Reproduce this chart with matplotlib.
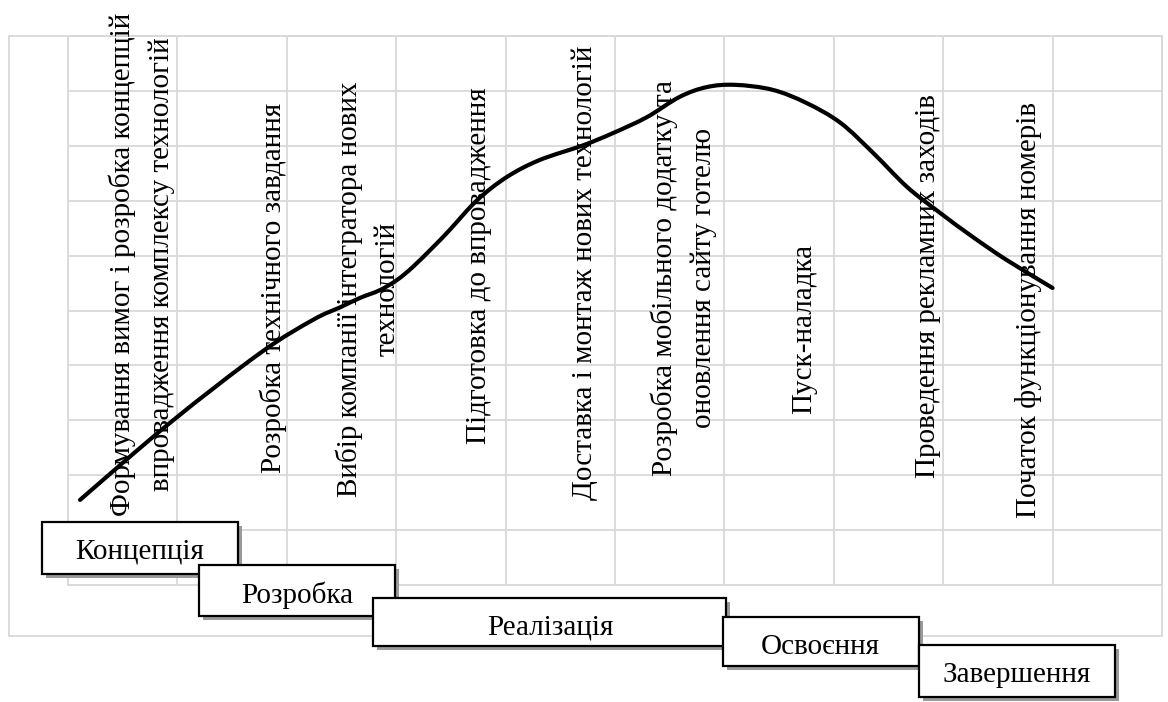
import matplotlib
matplotlib.use("Agg")
import matplotlib.pyplot as plt
import numpy as np
from matplotlib.path import Path
from matplotlib.patches import PathPatch, Rectangle

# ---------------- data ----------------
curve_x = [0.11, 0.93, 1.76, 2.24, 2.49, 2.67, 2.85, 3.01, 3.15, 3.34, 3.49, 3.74, 4.01, 4.31, 4.71,
           4.98, 5.29, 5.59, 5.84, 6.10, 6.44, 6.75, 7.06, 7.36, 7.67, 7.97, 8.27, 8.58, 9.00]
curve_y = [1.55, 2.95, 4.23, 4.83, 5.06, 5.23, 5.37, 5.56, 5.79, 6.16, 6.47, 7.01, 7.43, 7.74, 8.01,
           8.23, 8.52, 8.89, 9.07, 9.11, 9.02, 8.78, 8.42, 7.87, 7.25, 6.78, 6.34, 5.92, 5.41]

activities = [
    "Формування вимог і розробка концепцій\nвпровадження комплексу технологій",
    "Розробка технічного завдання",
    "Вибір компанії інтегратора нових\nтехнологій",
    "Підготовка до впровадження",
    "Доставка і монтаж нових технологій",
    "Розробка мобільного додатку та\nоновлення сайту готелю",
    "Пуск-наладка",
    "Проведення рекламних заходів",
    "Початок функціонування номерів",
]

phases = ["Концепція", "Розробка", "Реалізація", "Освоєння", "Завершення"]

# ---------------- layout (pixels) ----------------
W, H = 1168, 702
activity_pos = [(142, 264), (273, 288), (368, 289), (479, 266), (585, 273),
                (684, 278), (804, 329), (928, 286), (1029, 310)]
phase_boxes = [(42, 522, 238, 574), (199, 565, 395, 616), (373, 598, 726, 646),
               (723, 617, 919, 666), (919, 645, 1115, 697)]
phase_text = [(140, 552), (297, 595), (550, 627), (820, 647), (1017, 675)]

GRID = "#d9d9d9"
SERIF = ["Liberation Serif", "DejaVu Serif"]

fig = plt.figure(figsize=(W / 100, H / 100), dpi=100)

# overlay axes in pixel coordinates
ov = fig.add_axes([0, 0, 1, 1])
ov.set_xlim(0, W)
ov.set_ylim(H, 0)
ov.axis("off")

# outer chart frame
ov.add_patch(Rectangle((9, 36), 1162 - 9, 636 - 36, fill=False, ec=GRID, lw=1.3, zorder=0))

# grid axes
gx0, gx1, gy0, gy1 = 68, 1162, 36, 585
ax = fig.add_axes([gx0 / W, (H - gy1) / H, (gx1 - gx0) / W, (gy1 - gy0) / H])
ax.set_xlim(0, 10)
ax.set_ylim(0, 10)
ax.set_xticks(np.arange(0, 11))
ax.set_yticks(np.arange(0, 11))
ax.grid(True, color=GRID, lw=1.3)
ax.tick_params(length=0, labelbottom=False, labelleft=False)
for s in ax.spines.values():
    s.set_color(GRID)
    s.set_linewidth(1.3)
ax.patch.set_alpha(0)
ax.set_zorder(1)
ov.set_zorder(2)

# smooth curve (Catmull-Rom -> cubic Bezier)
P = np.column_stack([curve_x, curve_y])
n = len(P)
verts = [P[0]]
codes = [Path.MOVETO]
for i in range(n - 1):
    p0 = P[i - 1] if i > 0 else P[i]
    p1 = P[i]
    p2 = P[i + 1]
    p3 = P[i + 2] if i + 2 < n else P[i + 1]
    c1 = p1 + (p2 - p0) / 6.0
    c2 = p2 - (p3 - p1) / 6.0
    verts += [c1, c2, p2]
    codes += [Path.CURVE4] * 3
ax.add_patch(PathPatch(Path(verts, codes), fill=False, ec="black", lw=3.0,
                       capstyle="round", joinstyle="round", zorder=3))

# rotated activity labels
for txt, (x, y) in zip(activities, activity_pos):
    ov.text(x, y, txt, rotation=90, ha="center", va="center", multialignment="center",
            family=SERIF, fontsize=21, linespacing=1.6, zorder=4)

# phase boxes with shadow
for i, (name, (x0, y0, x1, y1), (tx, ty)) in enumerate(zip(phases, phase_boxes, phase_text)):
    z = 5 + 2 * i
    ov.add_patch(Rectangle((x0 + 4, y0 + 4), x1 - x0, y1 - y0, fc="#9a9a9a", ec="none", zorder=z))
    ov.add_patch(Rectangle((x0, y0), x1 - x0, y1 - y0, fc="white", ec="black", lw=1.6, zorder=z + 1))
    ov.text(tx, ty, name, ha="center", va="center", family=SERIF, fontsize=21, zorder=z + 1.5)

fig.savefig("out.png", dpi=100)
